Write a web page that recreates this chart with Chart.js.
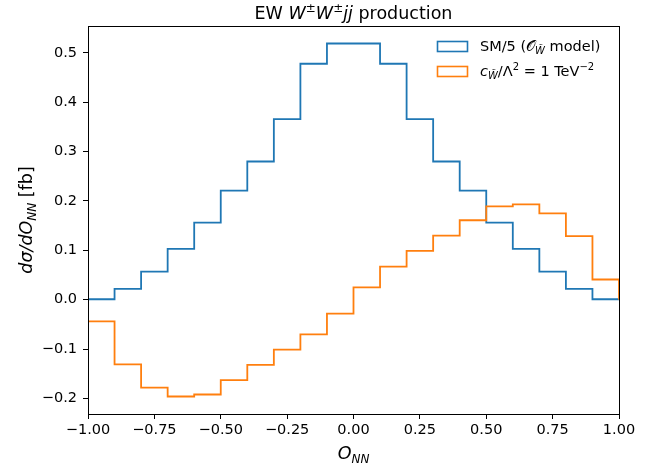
<!DOCTYPE html>
<html lang="en">
<head>
  <meta charset="UTF-8">
  <title>EW W±W±jj production</title>
  <script src="https://cdn.jsdelivr.net/npm/chart.js"></script>
  <style>
    body {
      margin: 0;
      padding: 0;
      background: #fff;
    }
  </style>
</head>
<body>
<canvas id="histChart" width="662" height="470"></canvas>

<script>
  // bin edges of O_NN (20 bins)
  var binEdges = [-1.0, -0.9, -0.8, -0.7, -0.6, -0.5, -0.4, -0.3, -0.2, -0.1, 0.0,
                  0.1, 0.2, 0.3, 0.4, 0.5, 0.6, 0.7, 0.8, 0.9, 1.0];

  // SM/5 (O_W~ model)
  var smValues = [0.001, 0.022, 0.057, 0.103, 0.156, 0.221, 0.280, 0.366, 0.478, 0.519,
                  0.519, 0.478, 0.366, 0.280, 0.221, 0.156, 0.103, 0.057, 0.022, 0.001];

  // c_W~/Lambda^2 = 1 TeV^-2
  var cwValues = [-0.044, -0.131, -0.178, -0.196, -0.192, -0.163, -0.132, -0.101, -0.070, -0.028,
                  0.025, 0.067, 0.099, 0.130, 0.161, 0.189, 0.193, 0.175, 0.129, 0.041];

  var xTicks = [-1.0, -0.75, -0.5, -0.25, 0.0, 0.25, 0.5, 0.75, 1.0];
  var yTicks = [-0.2, -0.1, 0.0, 0.1, 0.2, 0.3, 0.4, 0.5];

  var FONT = "'DejaVu Sans', sans-serif";

  // outline of a step histogram, closed down to zero at both ends
  function stepPoints(edges, vals) {
    var pts = [{x: edges[0], y: 0}];
    for (var i = 0; i < vals.length; i++) {
      pts.push({x: edges[i], y: vals[i]});
    }
    pts.push({x: edges[edges.length - 1], y: vals[vals.length - 1]});
    pts.push({x: edges[edges.length - 1], y: 0});
    return pts;
  }

  function fmt(v, d) {
    return v.toFixed(d).replace('-', '\u2212');
  }

  // draw a list of text pieces (italic / raised / lowered) in one line
  function richText(ctx, segs, x, y, align) {
    var w = 0;
    segs.forEach(function (s) {
      ctx.font = (s.i ? 'italic ' : '') + s.s + 'px ' + FONT;
      s.w = ctx.measureText(s.t).width;
      w += s.w;
    });
    var cx = align === 'center' ? x - w / 2 : x;
    ctx.textAlign = 'left';
    ctx.textBaseline = 'alphabetic';
    segs.forEach(function (s) {
      ctx.font = (s.i ? 'italic ' : '') + s.s + 'px ' + FONT;
      ctx.fillText(s.t, cx, y + (s.dy || 0));
      cx += s.w;
    });
  }

  var decorPlugin = {
    id: 'decor',
    afterDraw: function (chart) {
      var ctx = chart.ctx;
      var a = chart.chartArea;
      ctx.save();
      ctx.strokeStyle = '#000';
      ctx.lineWidth = 1;
      ctx.strokeRect(Math.round(a.left) + 0.5, Math.round(a.top) + 0.5,
        Math.round(a.right - a.left), Math.round(a.bottom - a.top));
      ctx.fillStyle = '#000';

      // title
      richText(ctx, [
        {t: 'EW ', s: 17.5},
        {t: 'W', s: 17.5, i: true},
        {t: '\u00b1', s: 12, dy: -7},
        {t: 'W', s: 17.5, i: true},
        {t: '\u00b1', s: 12, dy: -7},
        {t: 'jj', s: 17.5, i: true},
        {t: ' production', s: 17.5}
      ], (a.left + a.right) / 2, 19, 'center');

      // x label
      richText(ctx, [
        {t: 'O', s: 17.5, i: true},
        {t: 'NN', s: 12, i: true, dy: 3.5}
      ], (a.left + a.right) / 2, 459, 'center');

      // y label
      ctx.save();
      ctx.translate(32, (a.top + a.bottom) / 2);
      ctx.rotate(-Math.PI / 2);
      richText(ctx, [
        {t: 'd\u03c3/dO', s: 17.5, i: true},
        {t: 'NN', s: 12, i: true, dy: 3.5},
        {t: ' [fb]', s: 17.5}
      ], 0, 0, 'center');
      ctx.restore();

      // legend
      var lx = 437, rows = [46, 71];
      var cols = ['#1f77b4', '#ff7f0e'];
      ctx.lineWidth = 1.6;
      for (var r = 0; r < 2; r++) {
        ctx.strokeStyle = cols[r];
        ctx.strokeRect(lx + 0.5, rows[r] - 4.5, 30, 10);
      }
      ctx.fillStyle = '#000';
      richText(ctx, [
        {t: 'SM/5 (', s: 14.5},
        {t: '\ud835\udcaa', s: 14.5},
        {t: 'W\u0303', s: 10, i: true, dy: 3},
        {t: ' model)', s: 14.5}
      ], 480, rows[0] + 5, 'left');
      richText(ctx, [
        {t: 'c', s: 14.5, i: true},
        {t: 'W\u0303', s: 10, i: true, dy: 3},
        {t: '/\u039b', s: 14.5},
        {t: '2', s: 10, dy: -6},
        {t: ' = 1 TeV', s: 14.5},
        {t: '\u22122', s: 10, dy: -6}
      ], 480, rows[1] + 5, 'left');
      ctx.restore();
    }
  };

  var ctx = document.getElementById('histChart').getContext('2d');
  var histChart = new Chart(ctx, {
    type: 'line',
    data: {
      datasets: [{
        label: 'SM/5',
        data: stepPoints(binEdges, smValues),
        borderColor: '#1f77b4',
        borderWidth: 1.8,
        stepped: 'before',
        pointRadius: 0,
        fill: false,
        order: 2
      }, {
        label: 'cW/Lambda^2 = 1 TeV^-2',
        data: stepPoints(binEdges, cwValues),
        borderColor: '#ff7f0e',
        borderWidth: 1.8,
        stepped: 'before',
        pointRadius: 0,
        fill: false,
        order: 1
      }]
    },
    options: {
      responsive: false,
      animation: false,
      devicePixelRatio: 1,
      layout: {
        padding: {left: 0, top: 26, right: 43, bottom: 0}
      },
      plugins: {
        legend: {display: false},
        title: {display: false},
        tooltip: {enabled: false}
      },
      scales: {
        x: {
          type: 'linear',
          min: -1,
          max: 1,
          afterBuildTicks: function (scale) {
            scale.ticks = xTicks.map(function (v) { return {value: v}; });
          },
          afterFit: function (scale) { scale.height = 56; },
          grid: {drawOnChartArea: false, drawTicks: true, tickLength: 5, color: '#000'},
          border: {display: true, color: '#000', width: 1},
          ticks: {
            color: '#000',
            font: {family: FONT, size: 14.5},
            padding: 3,
            maxRotation: 0,
            callback: function (v) { return fmt(v, 2); }
          }
        },
        y: {
          type: 'linear',
          min: -0.2315,
          max: 0.5545,
          afterBuildTicks: function (scale) {
            scale.ticks = yTicks.map(function (v) { return {value: v}; });
          },
          afterFit: function (scale) { scale.width = 88; },
          grid: {drawOnChartArea: false, drawTicks: true, tickLength: 5, color: '#000'},
          border: {display: true, color: '#000', width: 1},
          ticks: {
            color: '#000',
            font: {family: FONT, size: 14.5},
            padding: 6,
            callback: function (v) { return fmt(v, 1); }
          }
        }
      }
    },
    plugins: [decorPlugin]
  });
</script>
</body>
</html>
